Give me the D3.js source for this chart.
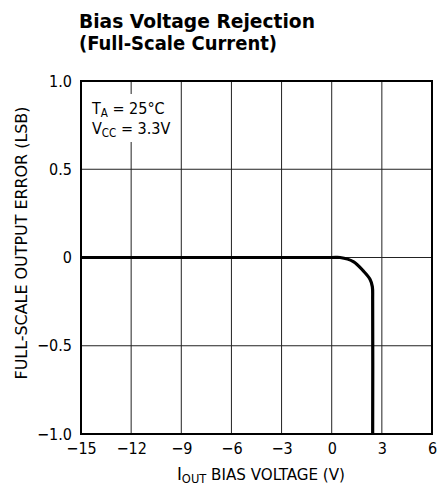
<!DOCTYPE html>
<html><head><meta charset="utf-8">
<script src="https://cdn.jsdelivr.net/npm/d3@7"></script>
<style>
body{margin:0;background:#fff;}
text{font-family:"Liberation Sans Narrow","DejaVu Sans Condensed","Roboto",sans-serif;fill:#000;}
</style></head>
<body>
<svg id="c" width="443" height="496"></svg>
<script>
const xTicks = [-15, -12, -9, -6, -3, 0, 3, 6];
const yTicks = [-1.0, -0.5, 0, 0.5, 1.0];
const yTickLabels = ["\u22121.0", "\u22120.5", "0", "0.5", "1.0"];
const biasV = [-15, -6, 0, 0.5, 1.29, 1.89, 2.29, 2.43, 2.45, 2.45];
const errLSB = [0, 0, 0, 0, -0.023, -0.076, -0.123, -0.165, -0.24, -1.0];

const svg = d3.select("#c");
const L = 81, R = 432, T = 81, B = 434;
const x = d3.scaleLinear().domain([-15, 6]).range([L, R]);
const y = d3.scaleLinear().domain([-1, 1]).range([B, T]);

// gridlines
const g = svg.append("g");
g.selectAll(".vx").data(xTicks.slice(1, -1)).join("line")
  .attr("x1", d => x(d)).attr("x2", d => x(d)).attr("y1", T).attr("y2", B)
  .attr("stroke", "#222").attr("stroke-width", 1);
g.selectAll(".hy").data(yTicks.slice(1, -1)).join("line")
  .attr("x1", L).attr("x2", R).attr("y1", d => y(d)).attr("y2", d => y(d))
  .attr("stroke", "#222").attr("stroke-width", 1);

// inset label background
svg.append("rect").attr("x", 88).attr("y", 94).attr("width", 89).attr("height", 48).attr("fill", "#fff");
const ins = svg.append("text").attr("font-size", 16);
const t1 = ins.append("tspan").attr("x", 92).attr("y", 114);
t1.append("tspan").text("T");
t1.append("tspan").attr("font-size", 11.5).attr("dy", 3).text("A");
t1.append("tspan").attr("dy", -3).text(" = 25\u00B0C");
const t2 = svg.append("text").attr("font-size", 16).attr("x", 92).attr("y", 134);
t2.append("tspan").text("V");
t2.append("tspan").attr("font-size", 11.5).attr("dy", 3).text("CC");
t2.append("tspan").attr("dy", -3).text(" = 3.3V");

// border
svg.append("rect").attr("x", L).attr("y", T).attr("width", R - L).attr("height", B - T)
  .attr("fill", "none").attr("stroke", "#000").attr("stroke-width", 2);

// data curve
const pts = biasV.map((v, i) => [v, errLSB[i]]);
svg.append("path").datum(pts)
  .attr("d", d3.line().x(d => x(d[0])).y(d => y(d[1])).curve(d3.curveCatmullRom.alpha(0.5)))
  .attr("fill", "none").attr("stroke", "#000").attr("stroke-width", 3.2);

// axes
const xa = svg.append("g").attr("transform", `translate(0,${B})`)
  .call(d3.axisBottom(x).tickValues(xTicks).tickSize(0).tickPadding(9)
    .tickFormat(d => d < 0 ? "\u2212" + Math.abs(d) : String(d)));
xa.select(".domain").remove();
xa.selectAll("text").attr("font-size", 16).attr("font-family", null).attr("fill", "#000");

const ya = svg.append("g").attr("transform", `translate(${L},0)`)
  .call(d3.axisLeft(y).tickValues(yTicks).tickSize(0).tickPadding(9)
    .tickFormat((d, i) => yTickLabels[i]));
ya.select(".domain").remove();
ya.selectAll("text").attr("font-size", 16).attr("font-family", null).attr("fill", "#000");

// title
svg.append("text").attr("x", 79).attr("y", 28).attr("font-size", 19).attr("font-weight", "bold")
  .attr("textLength", 236).attr("lengthAdjust", "spacingAndGlyphs").text("Bias Voltage Rejection");
svg.append("text").attr("x", 79).attr("y", 50).attr("font-size", 19).attr("font-weight", "bold")
  .attr("textLength", 198).attr("lengthAdjust", "spacingAndGlyphs").text("(Full-Scale Current)");

// x label
const xl = svg.append("text").attr("x", 177).attr("y", 480).attr("font-size", 16.5)
  .attr("textLength", 168).attr("lengthAdjust", "spacingAndGlyphs");
xl.append("tspan").attr("font-size", 18).text("I");
xl.append("tspan").attr("font-size", 12.5).attr("dy", 3).text("OUT");
xl.append("tspan").attr("dy", -3).text(" BIAS VOLTAGE (V)");

// y label
svg.append("text").attr("transform", "translate(27,243) rotate(-90)")
  .attr("text-anchor", "middle").attr("font-size", 16)
  .attr("textLength", 273).attr("lengthAdjust", "spacingAndGlyphs")
  .text("FULL-SCALE OUTPUT ERROR (LSB)");
</script>
</body></html>
